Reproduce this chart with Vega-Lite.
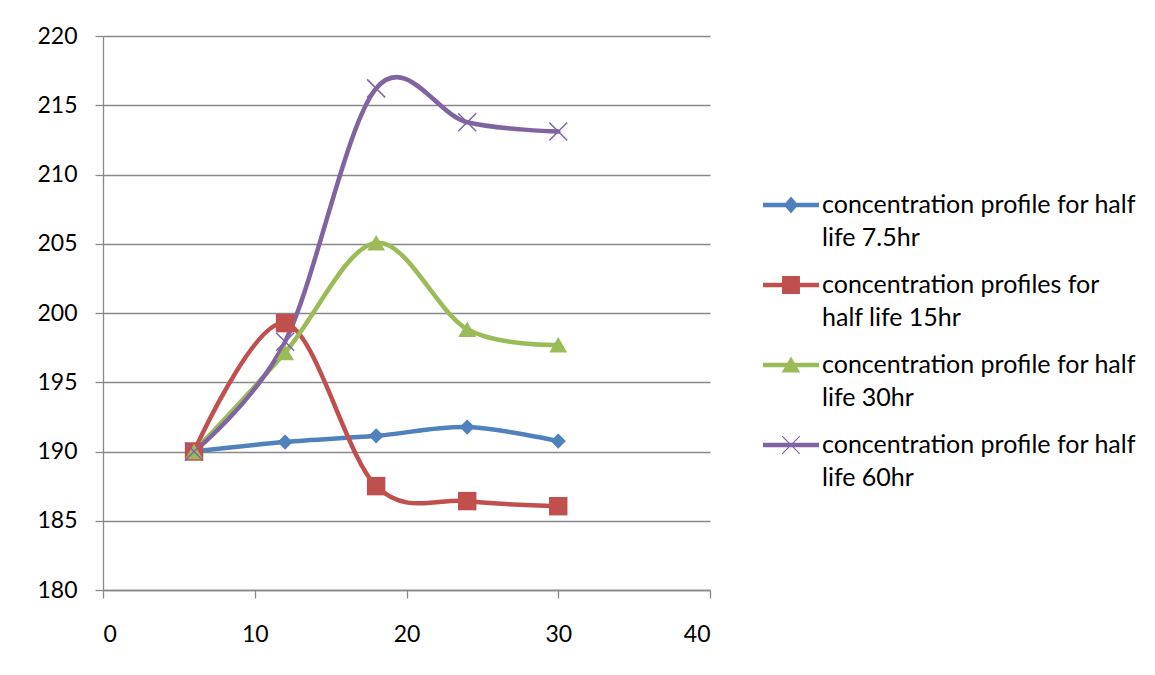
{
  "$schema": "https://vega.github.io/schema/vega-lite/v6.json",
  "width": 607,
  "height": 554,
  "autosize": "none",
  "padding": {"left": 103, "top": 36, "right": 445, "bottom": 85},
  "background": "white",
  "config": {
    "view": {"stroke": null},
    "font": "Lato",
    "axis": {
      "labelFont": "Lato",
      "labelFontSize": 23,
      "labelColor": "#000000",
      "domainColor": "#888888",
      "domainWidth": 1.3,
      "tickColor": "#888888",
      "tickWidth": 1.3,
      "tickSize": 8,
      "gridColor": "#888888",
      "gridWidth": 1.3,
      "title": null
    }
  },
  "data": {
    "values": [
      {"t": 6, "conc": 190.0, "series": "concentration profile for half life 7.5hr"},
      {"t": 12, "conc": 190.68, "series": "concentration profile for half life 7.5hr"},
      {"t": 18, "conc": 191.13, "series": "concentration profile for half life 7.5hr"},
      {"t": 24, "conc": 191.76, "series": "concentration profile for half life 7.5hr"},
      {"t": 30, "conc": 190.75, "series": "concentration profile for half life 7.5hr"},
      {"t": 6, "conc": 190.0, "series": "concentration profiles for half life 15hr"},
      {"t": 12, "conc": 199.27, "series": "concentration profiles for half life 15hr"},
      {"t": 18, "conc": 187.5, "series": "concentration profiles for half life 15hr"},
      {"t": 24, "conc": 186.42, "series": "concentration profiles for half life 15hr"},
      {"t": 30, "conc": 186.05, "series": "concentration profiles for half life 15hr"},
      {"t": 6, "conc": 190.0, "series": "concentration profile for half life 30hr"},
      {"t": 12, "conc": 197.15, "series": "concentration profile for half life 30hr"},
      {"t": 18, "conc": 205.07, "series": "concentration profile for half life 30hr"},
      {"t": 24, "conc": 198.83, "series": "concentration profile for half life 30hr"},
      {"t": 30, "conc": 197.7, "series": "concentration profile for half life 30hr"},
      {"t": 6, "conc": 190.0, "series": "concentration profile for half life 60hr"},
      {"t": 12, "conc": 197.93, "series": "concentration profile for half life 60hr"},
      {"t": 18, "conc": 216.22, "series": "concentration profile for half life 60hr"},
      {"t": 24, "conc": 213.77, "series": "concentration profile for half life 60hr"},
      {"t": 30, "conc": 213.1, "series": "concentration profile for half life 60hr"}
    ]
  },
  "encoding": {
    "x": {
      "field": "t",
      "type": "quantitative",
      "scale": {"domain": [0, 40], "nice": false, "zero": false},
      "axis": {"values": [0, 10, 20, 30, 40], "grid": false, "labelPadding": 25}
    },
    "y": {
      "field": "conc",
      "type": "quantitative",
      "scale": {"domain": [180, 220], "nice": false, "zero": false},
      "axis": {"values": [180, 185, 190, 195, 200, 205, 210, 215, 220], "grid": true, "labelPadding": 18}
    },
    "color": {
      "field": "series",
      "type": "nominal",
      "scale": {
        "domain": [
          "concentration profile for half life 7.5hr",
          "concentration profiles for half life 15hr",
          "concentration profile for half life 30hr",
          "concentration profile for half life 60hr"
        ],
        "range": ["#4F81BD", "#C0504D", "#9BBB59", "#8064A2"]
      },
      "legend": {
        "orient": "none",
        "legendX": 660,
        "legendY": 141,
        "title": null,
        "padding": 0,
        "labelFont": "Lato",
        "labelFontSize": 25,
        "labelColor": "#000000",
        "labelLimit": 0,
        "labelOffset": 3,
        "rowPadding": 6,
        "labelBaseline": "top",
        "labelExpr": "datum.label == 'concentration profiles for half life 15hr' ? ['concentration profiles for', 'half life 15hr'] : [substring(datum.label, 0, 30), substring(datum.label, 31)]",
        "encode": {
          "symbols": {
            "update": {
              "shape": {"signal": "['M-1,-0.08H1V0.08H-1Z M0,-0.3L0.26,0L0,0.3L-0.26,0Z', 'M-1,-0.08H1V0.08H-1Z M-0.32,-0.32H0.32V0.32H-0.32Z', 'M-1,-0.08H1V0.08H-1Z M0,-0.3L0.33,0.27H-0.33Z', 'M-1,-0.08H1V0.08H-1Z M-0.33,-0.3L-0.3,-0.33L0.33,0.3L0.3,0.33Z M0.3,-0.33L0.33,-0.3L-0.3,0.33L-0.33,0.3Z'][indexof(domain('color'), datum.value)]"},
              "size": {"value": 3136},
              "fill": {"scale": "color", "field": "value"},
              "stroke": {"value": "transparent"},
              "strokeWidth": {"value": 0},
              "opacity": {"value": 1}
            }
          },
          "labels": {
            "update": {
              "lineHeight": {"value": 33},
              "dy": {"value": -12}
            }
          }
        }
      }
    }
  },
  "layer": [
    {
      "mark": {"type": "line", "interpolate": "cardinal", "strokeWidth": 4.5, "strokeCap": "round", "strokeJoin": "round"}
    },
    {
      "transform": [{"filter": "datum.series == 'concentration profile for half life 7.5hr'"}],
      "mark": {"type": "point", "shape": "diamond", "size": 230, "filled": true, "opacity": 1}
    },
    {
      "transform": [{"filter": "datum.series == 'concentration profiles for half life 15hr'"}],
      "mark": {"type": "point", "shape": "square", "size": 340, "filled": true, "opacity": 1}
    },
    {
      "transform": [{"filter": "datum.series == 'concentration profile for half life 30hr'"}],
      "mark": {"type": "point", "shape": "triangle-up", "size": 320, "filled": true, "opacity": 1}
    },
    {
      "transform": [{"filter": "datum.series == 'concentration profile for half life 60hr'"}],
      "mark": {"type": "point", "shape": "M-1,-1L1,1M-1,1L1,-1", "size": 324, "filled": false, "strokeWidth": 1.5, "opacity": 1}
    }
  ]
}
